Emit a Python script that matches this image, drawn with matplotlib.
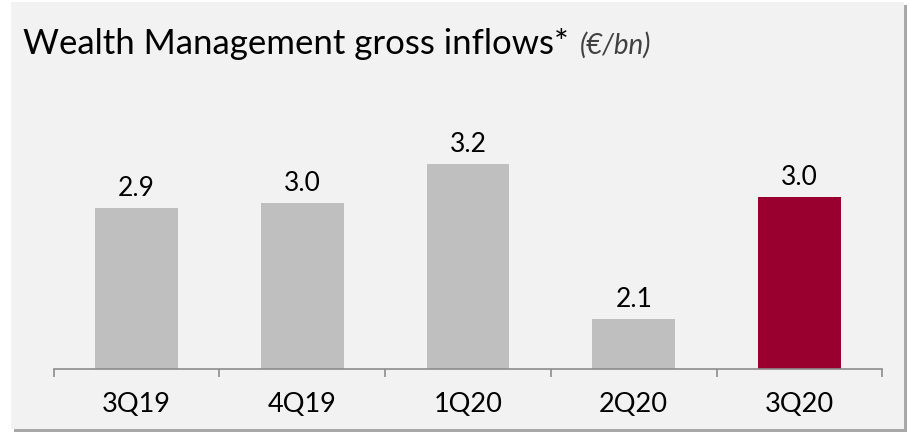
import numpy as np
import matplotlib
matplotlib.use('Agg')
import matplotlib.pyplot as plt
from matplotlib.patches import Rectangle

# Data (labels rounded to 1 decimal as in the slide)
quarters = ['3Q19', '4Q19', '1Q20', '2Q20', '3Q20']
inflows = [2.92, 2.96, 3.24, 2.13, 3.00]
bar_colors = ['#BFBFBF', '#BFBFBF', '#BFBFBF', '#BFBFBF', '#990030']

plt.rcParams['font.family'] = ['Lato', 'DejaVu Sans']

fig = plt.figure(figsize=(9.1, 4.34), dpi=100)
fig.patch.set_facecolor('white')

# panel with a small drop shadow
fig.patches.append(Rectangle((14 / 910, 2 / 434), 893 / 910, 427 / 434,
                             transform=fig.transFigure, facecolor='#A8A8A8',
                             edgecolor='none', zorder=-2))
fig.patches.append(Rectangle((11 / 910, 5 / 434), 893 / 910, 427 / 434,
                             transform=fig.transFigure, facecolor='#F2F2F2',
                             edgecolor='none', zorder=-1))

ax = fig.add_axes([53.7 / 910, (434 - 369.3) / 434, 828.6 / 910, 269.3 / 434])
ax.set_facecolor('none')

x = np.arange(len(quarters))
bars = ax.bar(x, inflows, width=0.5, bottom=0, color=bar_colors, zorder=2)
ax.set_xlim(-0.5, len(quarters) - 0.5)
ax.set_ylim(1.77, 1.77 + 269.3 / 140)

for xi, v in zip(x, inflows):
    ax.annotate(f'{v:.1f}', (xi, v), xytext=(0, 5), textcoords='offset points',
                ha='center', va='bottom', fontsize=19, color='black')

for s in ['top', 'right', 'left']:
    ax.spines[s].set_visible(False)
ax.spines['bottom'].set_color('#8C8C8C')
ax.spines['bottom'].set_linewidth(1.2)
ax.set_yticks([])

ax.set_xticks(x)
ax.set_xticklabels(quarters, fontsize=19.5)
ax.tick_params(axis='x', which='major', length=0, pad=16)
ax.set_xticks(np.arange(-0.5, len(quarters)), minor=True)
ax.tick_params(axis='x', which='minor', length=6, width=1.2, color='#8C8C8C')

fig.text(23 / 910, 1 - 54 / 434, 'Wealth Management gross inflows*',
         fontsize=25, color='black', va='baseline', ha='left')
fig.text(580 / 910, 1 - 54 / 434, '(€/bn)', fontsize=20, style='italic',
         color='#404040', va='baseline', ha='left')

fig.savefig('out.png', dpi=100)
